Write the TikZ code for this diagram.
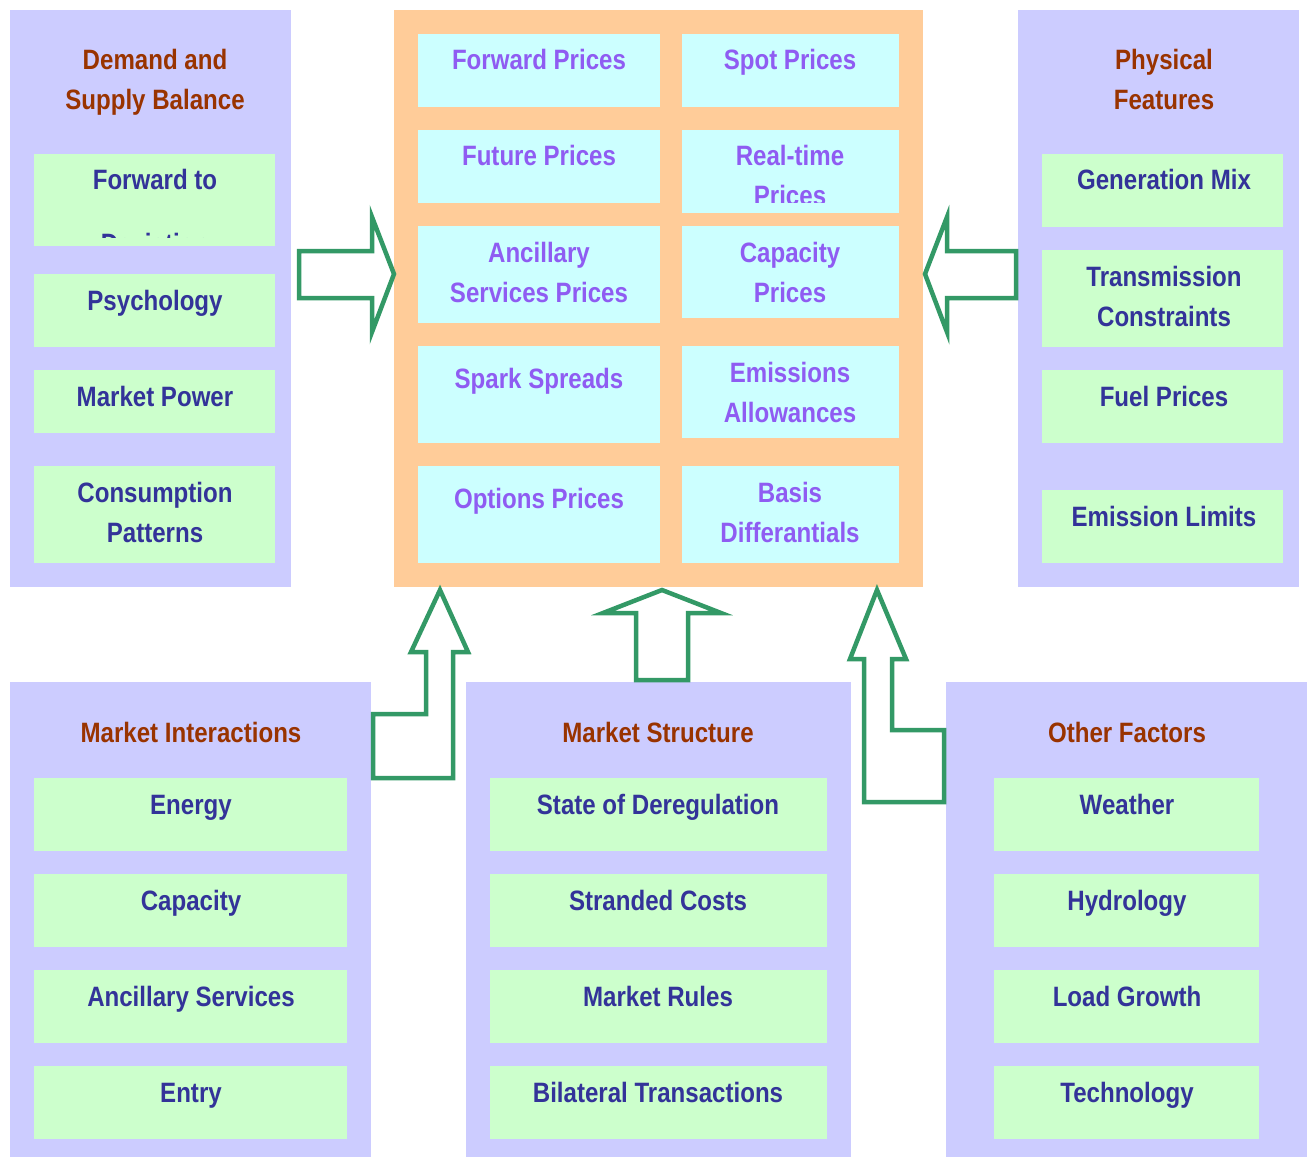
\documentclass[tikz,border=0pt]{standalone}
\usepackage{fontspec}
\setmainfont{Liberation Sans}[FakeStretch=0.86]
\definecolor{lav}{HTML}{CCCCFF}
\definecolor{lgreen}{HTML}{CCFFCC}
\definecolor{lcyan}{HTML}{CCFFFF}
\definecolor{lorange}{HTML}{FFCC99}
\definecolor{tbrown}{HTML}{993300}
\definecolor{dblue}{HTML}{333399}
\definecolor{tpurple}{HTML}{8F5CF2}
\definecolor{agreen}{HTML}{339966}
\newcommand\mybox[6]{\node[#2, anchor=north west, minimum width={#5pt-#3pt}, minimum height={#6pt-#4pt}] (#1) at (#3,#4) {};}
\begin{document}
\begin{tikzpicture}[x=1pt,y=-1pt,
  boxbase/.style={inner sep=0pt, outer sep=0pt, draw=none},
  panel/.style={boxbase, fill=lav},
  cpanel/.style={boxbase, fill=lorange},
  gbox/.style={boxbase, fill=lgreen},
  cbox/.style={boxbase, fill=lcyan},
  txt/.style={inner sep=0pt, anchor=base, font=\fontsize{28}{34}\selectfont\bfseries},
  ttl/.style={txt, text=tbrown},
  itm/.style={txt, text=dblue},
  ptx/.style={txt, text=tpurple},
  blockarrow/.style={draw=agreen, line width=4.5pt, fill=white, line join=miter, miter limit=10}]
\useasboundingbox (0,0) rectangle (1315,1157);
% panels
\mybox{pL}{panel}{10}{10}{291}{587}
\mybox{pC}{cpanel}{394}{10}{923}{587}
\mybox{pR}{panel}{1018}{10}{1299}{587}
\mybox{pBL}{panel}{10}{682}{371}{1157}
\mybox{pBM}{panel}{466}{682}{851}{1157}
\mybox{pBR}{panel}{946}{682}{1307}{1157}
% left panel boxes
\mybox{l1}{gbox}{34}{154}{275}{246}
\mybox{l2}{gbox}{34}{274}{275}{347}
\mybox{l3}{gbox}{34}{370}{275}{433}
\mybox{l4}{gbox}{34}{466}{275}{563}
% center boxes
\mybox{c11}{cbox}{418}{34}{660}{107}
\mybox{c12}{cbox}{682}{34}{899}{107}
\mybox{c21}{cbox}{418}{130}{660}{203}
\mybox{c22}{cbox}{682}{130}{899}{213}
\mybox{c31}{cbox}{418}{226}{660}{323}
\mybox{c32}{cbox}{682}{226}{899}{318}
\mybox{c41}{cbox}{418}{346}{660}{443}
\mybox{c42}{cbox}{682}{346}{899}{438}
\mybox{c51}{cbox}{418}{466}{660}{563}
\mybox{c52}{cbox}{682}{466}{899}{563}
% right panel boxes
\mybox{r1}{gbox}{1042}{154}{1283}{227}
\mybox{r2}{gbox}{1042}{250}{1283}{347}
\mybox{r3}{gbox}{1042}{370}{1283}{443}
\mybox{r4}{gbox}{1042}{490}{1283}{563}
% bottom boxes
\mybox{bl1}{gbox}{34}{778}{347}{851}
\mybox{bl2}{gbox}{34}{874}{347}{947}
\mybox{bl3}{gbox}{34}{970}{347}{1043}
\mybox{bl4}{gbox}{34}{1066}{347}{1139}
\mybox{bm1}{gbox}{490}{778}{827}{851}
\mybox{bm2}{gbox}{490}{874}{827}{947}
\mybox{bm3}{gbox}{490}{970}{827}{1043}
\mybox{bm4}{gbox}{490}{1066}{827}{1139}
\mybox{br1}{gbox}{994}{778}{1259}{851}
\mybox{br2}{gbox}{994}{874}{1259}{947}
\mybox{br3}{gbox}{994}{970}{1259}{1043}
\mybox{br4}{gbox}{994}{1066}{1259}{1139}
% left panel texts
\node[ttl] (tLa) at (155,69) {Demand and};
\node[ttl] (tLb) at (155,109) {Supply Balance};
\node[itm] (l1a) at (155,189) {Forward to};
\begin{scope}
\clip (34,154) rectangle (275,237);
\node[itm] (l1b) at (155,253) {Deviation};
\end{scope}
\node[itm] (l2t) at (155,310) {Psychology};
\node[itm] (l3t) at (155,406) {Market Power};
\node[itm] (l4a) at (155,502) {Consumption};
\node[itm] (l4b) at (155,542) {Patterns};
% center texts
\node[ptx] (c11t) at (539,69) {Forward Prices};
\node[ptx] (c12t) at (790,69) {Spot Prices};
\node[ptx] (c21t) at (539,165) {Future Prices};
\node[ptx] (c22a) at (790,165) {Real-time};
\begin{scope}
\clip (682,130) rectangle (899,202);
\node[ptx] (c22b) at (790,205) {Prices};
\end{scope}
\node[ptx] (c31a) at (539,262) {Ancillary};
\node[ptx] (c31b) at (539,302) {Services Prices};
\node[ptx] (c32a) at (790,262) {Capacity};
\node[ptx] (c32b) at (790,302) {Prices};
\node[ptx] (c41t) at (539,388) {Spark Spreads};
\node[ptx] (c42a) at (790,382) {Emissions};
\node[ptx] (c42b) at (790,422) {Allowances};
\node[ptx] (c51t) at (539,508) {Options Prices};
\node[ptx] (c52a) at (790,502) {Basis};
\node[ptx] (c52b) at (790,542) {Differantials};
% right panel texts
\node[ttl] (tRa) at (1164,69) {Physical};
\node[ttl] (tRb) at (1164,109) {Features};
\node[itm] (r1t) at (1164,189) {Generation Mix};
\node[itm] (r2a) at (1164,286) {Transmission};
\node[itm] (r2b) at (1164,326) {Constraints};
\node[itm] (r3t) at (1164,406) {Fuel Prices};
\node[itm] (r4t) at (1164,526) {Emission Limits};
% bottom texts
\node[ttl] (tBL) at (191,742) {Market Interactions};
\node[itm] (bl1t) at (191,814) {Energy};
\node[itm] (bl2t) at (191,910) {Capacity};
\node[itm] (bl3t) at (191,1006) {Ancillary Services};
\node[itm] (bl4t) at (191,1102) {Entry};
\node[ttl] (tBM) at (658,742) {Market Structure};
\node[itm] (bm1t) at (658,814) {State of Deregulation};
\node[itm] (bm2t) at (658,910) {Stranded Costs};
\node[itm] (bm3t) at (658,1006) {Market Rules};
\node[itm] (bm4t) at (658,1102) {Bilateral Transactions};
\node[ttl] (tBR) at (1127,742) {Other Factors};
\node[itm] (br1t) at (1127,814) {Weather};
\node[itm] (br2t) at (1127,910) {Hydrology};
\node[itm] (br3t) at (1127,1006) {Load Growth};
\node[itm] (br4t) at (1127,1102) {Technology};
% block arrows
\draw[blockarrow] (299,251) -- (372,251) -- (372,217) -- (394,274) -- (372,332) -- (372,298) -- (299,298) -- cycle;
\draw[blockarrow] (1016,251) -- (947,251) -- (947,217) -- (925,274) -- (947,332) -- (947,298) -- (1016,298) -- cycle;
\draw[blockarrow] (373,714) -- (426,714) -- (426,652) -- (411,652) -- (440,590) -- (468,652) -- (453,652) -- (453,778) -- (373,778) -- cycle;
\draw[blockarrow] (636,680) -- (636,613) -- (603,613) -- (662,590) -- (721,613) -- (688,613) -- (688,680) -- cycle;
\draw[blockarrow] (944,730) -- (892,730) -- (892,659) -- (906,659) -- (877,590) -- (850,659) -- (864,659) -- (864,802) -- (944,802) -- cycle;
\end{tikzpicture}
\end{document}
